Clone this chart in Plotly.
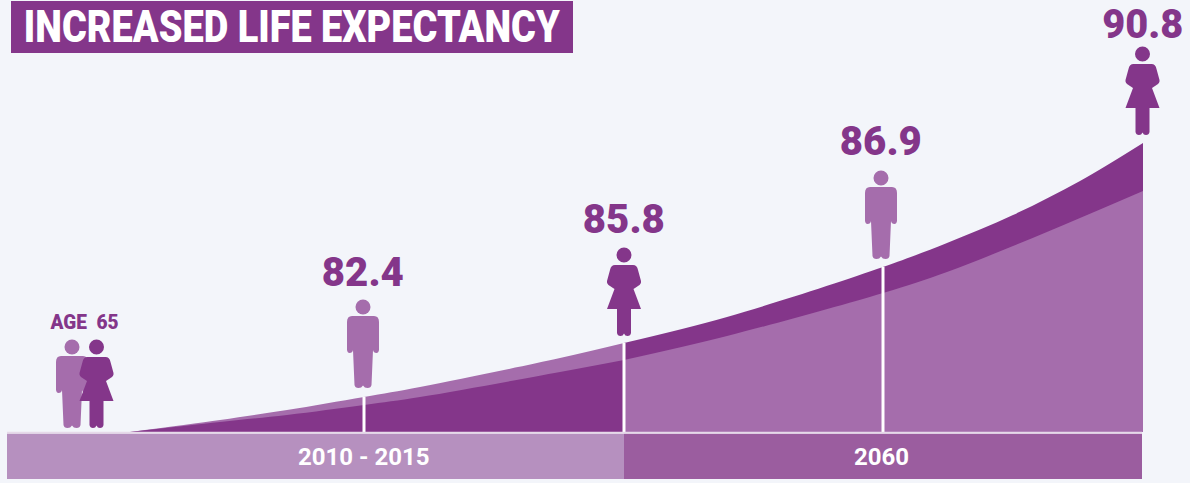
import plotly.graph_objects as go

# curve data (horizontal position, band heights)
curve_x_left = [130, 220, 287, 364, 420, 560, 624]
upper_left = [0, 12, 22, 35, 45, 74, 89]
lower_left = [0, 10, 17, 27, 35, 60, 72]
curve_x_right = [624, 727, 883, 947, 1013, 1080, 1143]
upper_right = [89, 115, 165, 189, 217, 251, 289]
lower_right = [72, 96, 139, 160, 186, 214, 241]

stem_x = [364, 624, 883]
stem_top = [35, 89, 165]

period_labels = ["2010 - 2015", "2060"]
period_start = [7, 624]
period_end = [624, 1142]
period_label_x = [364, 881]

value_labels = ["82.4", "85.8", "86.9", "90.8"]
value_x = [363, 624, 881, 1143]
value_y = [160, 213, 291, 408]

men = [(72, 85, "#a56dac"), (363, 125, "#a56dac"), (881, 254, "#a56dac")]
women = [(96.5, 85), (624, 177), (1142.5, 378)]

BG = "#f3f5fa"
DARK = "#84368a"
MID = "#a56dac"
BASE = 432  # plot height of the baseline from the top of the page


def man_path(cx, hy):
    p = lambda dx, dy: f"{cx + dx:.1f},{hy - dy:.1f}"
    return (
        f"M{p(-11, 9)} L{p(11, 9)} Q{p(16, 9)} {p(16, 15)} L{p(16, 43)} "
        f"Q{p(15.5, 46)} {p(13.5, 46)} Q{p(10.5, 46)} {p(10, 43)} "
        f"L{p(8.5, 78)} Q{p(8, 81)} {p(4.5, 81)} Q{p(1.5, 81)} {p(0, 78.5)} "
        f"Q{p(-1.5, 81)} {p(-4.5, 81)} Q{p(-8, 81)} {p(-8.5, 78)} "
        f"L{p(-10, 43)} Q{p(-10.5, 46)} {p(-13.5, 46)} Q{p(-15.5, 46)} {p(-16, 43)} "
        f"L{p(-16, 15)} Q{p(-16, 9)} {p(-11, 9)} Z"
    )


def woman_path(cx, hy):
    p = lambda dx, dy: f"{cx + dx:.1f},{hy - dy:.1f}"
    return (
        f"M{p(-9, 10)} L{p(9, 10)} Q{p(13, 10)} {p(14, 15)} L{p(17, 26)} "
        f"Q{p(17.5, 29)} {p(14, 31)} L{p(9.5, 34)} L{p(17, 54)} L{p(7, 54)} "
        f"L{p(7, 78)} Q{p(6.5, 81)} {p(3.5, 81)} Q{p(1, 81)} {p(0, 78.5)} "
        f"Q{p(-1, 81)} {p(-3.5, 81)} Q{p(-6.5, 81)} {p(-7, 78)} "
        f"L{p(-7, 54)} L{p(-17, 54)} L{p(-9.5, 34)} L{p(-14, 31)} "
        f"Q{p(-17.5, 29)} {p(-17, 26)} L{p(-14, 15)} Q{p(-13, 10)} {p(-9, 10)} Z"
    )


def head(cx, hy, color):
    return dict(type="circle", xref="x", yref="y", x0=cx - 7.5, x1=cx + 7.5,
                y0=hy - 7.5, y1=hy + 7.5, fillcolor=color, line_width=0, layer="above")


def body(path, color):
    return dict(type="path", xref="x", yref="y", path=path,
                fillcolor=color, line_width=0, layer="above")


fig = go.Figure()


def area(x, y, color):
    fig.add_trace(go.Scatter(x=x, y=y, mode="lines", fill="tozeroy", fillcolor=color,
                             line=dict(color=color, width=0, shape="spline", smoothing=1),
                             hoverinfo="skip", showlegend=False))


area(curve_x_left, upper_left, MID)
area(curve_x_left, lower_left, DARK)
area(curve_x_right, upper_right, DARK)
area(curve_x_right, lower_right, MID)

for sx, st in zip(stem_x, stem_top):
    fig.add_trace(go.Scatter(x=[sx, sx], y=[0, st], mode="lines",
                             line=dict(color="#ffffff", width=3),
                             hoverinfo="skip", showlegend=False))

fig.add_trace(go.Bar(
    x=[(a + b) / 2 for a, b in zip(period_start, period_end)],
    y=[45.5, 45.5], base=[-47, -47],
    width=[b - a for a, b in zip(period_start, period_end)],
    marker=dict(color=["#b690bf", "#9b5d9f"], line_width=0),
    hoverinfo="skip", showlegend=False))

fig.add_trace(go.Scatter(x=[period_start[0], period_end[-1]], y=[-0.7, -0.7], mode="lines",
                         line=dict(color="#e6d9e9", width=2),
                         hoverinfo="skip", showlegend=False))

shapes = [dict(type="rect", xref="x", yref="y", x0=11, x1=573, y0=BASE - 53, y1=BASE - 1,
               fillcolor=DARK, line_width=0, layer="above")]
for cx, hy, color in men:
    shapes.append(head(cx, hy, color))
    shapes.append(body(man_path(cx, hy), color))
for cx, hy in women:
    shapes.append(head(cx, hy, DARK))
    shapes.append(body(woman_path(cx, hy), DARK))

annotations = [
    dict(x=292, y=BASE - 26, text="INCREASED LIFE EXPECTANCY", showarrow=False,
         font=dict(family="Roboto", size=45, color="#ffffff", weight=900)),
    dict(x=84, y=BASE - 322, text="AGE  65", showarrow=False,
         font=dict(family="Roboto", size=21, color=DARK, weight=900)),
]
for lab, lx in zip(period_labels, period_label_x):
    annotations.append(dict(x=lx, y=-24.5, text=f"<b>{lab}</b>", showarrow=False,
                            font=dict(family="Roboto", size=24, color="#ffffff")))
for lab, lx, ly in zip(value_labels, value_x, value_y):
    annotations.append(dict(x=lx, y=ly, text=lab, showarrow=False, borderpad=0,
                            font=dict(family="Roboto", size=41, color=DARK, weight=900)))

fig.update_layout(
    width=1190, height=483, margin=dict(l=0, r=0, t=0, b=0),
    paper_bgcolor=BG, plot_bgcolor=BG, showlegend=False,
    shapes=shapes, annotations=annotations, barmode="overlay",
    xaxis=dict(range=[0, 1190], visible=False, fixedrange=True),
    yaxis=dict(range=[-51, 432], visible=False, fixedrange=True),
)

# page margin off; the condensed headline and small label are fitted, as real text,
# to the widths seen in the reference
post = """
document.body.style.margin = '0';
document.body.style.background = '#f3f5fa';
var fit = {'INCREASED LIFE EXPECTANCY': 536, 'AGE  65': 68, 'AGE 65': 68,
           '82.4': 82, '85.8': 82, '86.9': 82, '90.8': 81};
document.querySelectorAll('.annotation-text').forEach(function (t) {
  var w = fit[t.textContent];
  if (w) {
    t.setAttribute('textLength', w);
    t.setAttribute('lengthAdjust', 'spacingAndGlyphs');
  }
});
"""
fig.write_html("out.html", config={"displayModeBar": False}, post_script=post)
